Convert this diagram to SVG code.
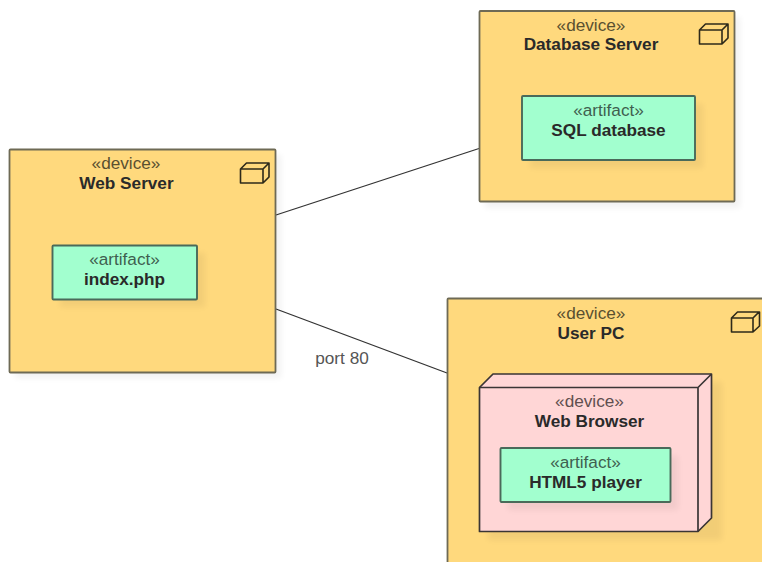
<svg xmlns="http://www.w3.org/2000/svg" width="762" height="562" viewBox="0 0 762 562">
<defs>
<filter id="shadow" x="-15%" y="-15%" width="130%" height="130%"><feGaussianBlur stdDeviation="3"/></filter>
</defs>
<style>
text{font-family:"Liberation Sans",Arial,sans-serif;font-size:17.2px;text-anchor:middle}
.st{fill:#5a5030}
.stg{fill:#3f5f50}
.stp{fill:#5f4f4f}
.nm{fill:#2a2a2a;font-weight:bold}
.dev{fill:#ffd97d;stroke:#6e6a55;stroke-width:1.8}
.art{fill:#a2ffcf;stroke:#4a6a5a;stroke-width:1.9}
.sh{fill:#000;opacity:.05;filter:url(#shadow)}
.ic{fill:none;stroke:#2e2a1a;stroke-width:1.6;stroke-linejoin:round}
.c{fill:none;stroke:#333;stroke-width:1.3}
.br{fill:#ffd6d6;stroke:#3a3535;stroke-width:1.7;stroke-linejoin:round}
</style>
<g id="connectors">
<line class="c" x1="276" y1="215" x2="479" y2="148.500"/>
<line class="c" x1="276" y1="309" x2="447" y2="373"/>
<text x="342" y="364" style="fill:#555">port 80</text>
</g>
<g id="web-server">
<rect class="sh" x="15" y="155" width="266" height="223"/>
<rect class="dev" x="9.500" y="149.500" width="266" height="223" rx="1"/>
<path class="ic" d="M240.500 169h22.500v14h-22.500zM240.500 169l6-6h22.500v14l-6 6M263 169l6-6"/>
<text class="st" x="126" y="169">«device»</text>
<text class="nm" x="126.500" y="189">Web Server</text>
<g id="index-php">
<rect class="sh" x="60" y="253" width="145" height="54"/>
<rect class="art" x="52.500" y="245.500" width="144.500" height="54" rx="1"/>
<text class="stg" x="124.500" y="265">«artifact»</text>
<text class="nm" x="124.500" y="285">index.php</text>
</g>
</g>
<g id="database-server">
<rect class="sh" x="485" y="17" width="255" height="191"/>
<rect class="dev" x="479.500" y="11" width="255" height="190.500" rx="1"/>
<path class="ic" d="M699.500 30h22.500v14h-22.500zM699.500 30l6-6h22.500v14l-6 6M722 30l6-6"/>
<text class="st" x="591" y="31">«device»</text>
<text class="nm" x="591" y="50">Database Server</text>
<g id="sql-database">
<rect class="sh" x="530" y="104" width="173" height="64"/>
<rect class="art" x="522" y="96" width="173" height="64" rx="1"/>
<text class="stg" x="608.500" y="116">«artifact»</text>
<text class="nm" x="608.500" y="136">SQL database</text>
</g>
</g>
<g id="user-pc">
<rect class="sh" x="453" y="305" width="320" height="270"/>
<rect class="dev" x="447.500" y="298.500" width="330" height="280" rx="1"/>
<path class="ic" d="M731.500 318h21.500v14h-21.500zM731.500 318l6-6h22v14l-6.500 6M753 318l6-6"/>
<text class="st" x="591" y="319">«device»</text>
<text class="nm" x="591" y="339">User PC</text>
<g id="web-browser">
<rect class="sh" x="488" y="382" width="234" height="158"/>
<path class="br" d="M479.500 387.500l13.500-13.500h218.500v144l-13.500 13.500h-218.500z"/>
<path class="br" style="fill:none" d="M479.500 387.500h218.500v144M698 387.500l13.500-13.500"/>
<text class="stp" x="589.500" y="407">«device»</text>
<text class="nm" x="589.500" y="427">Web Browser</text>
<g id="html5-player">
<rect class="sh" x="508" y="456" width="170" height="54"/>
<rect class="art" x="500.500" y="448" width="170" height="54" rx="1"/>
<text class="stg" x="585.500" y="468">«artifact»</text>
<text class="nm" x="585.500" y="488">HTML5 player</text>
</g>
</g>
</g>
</svg>
